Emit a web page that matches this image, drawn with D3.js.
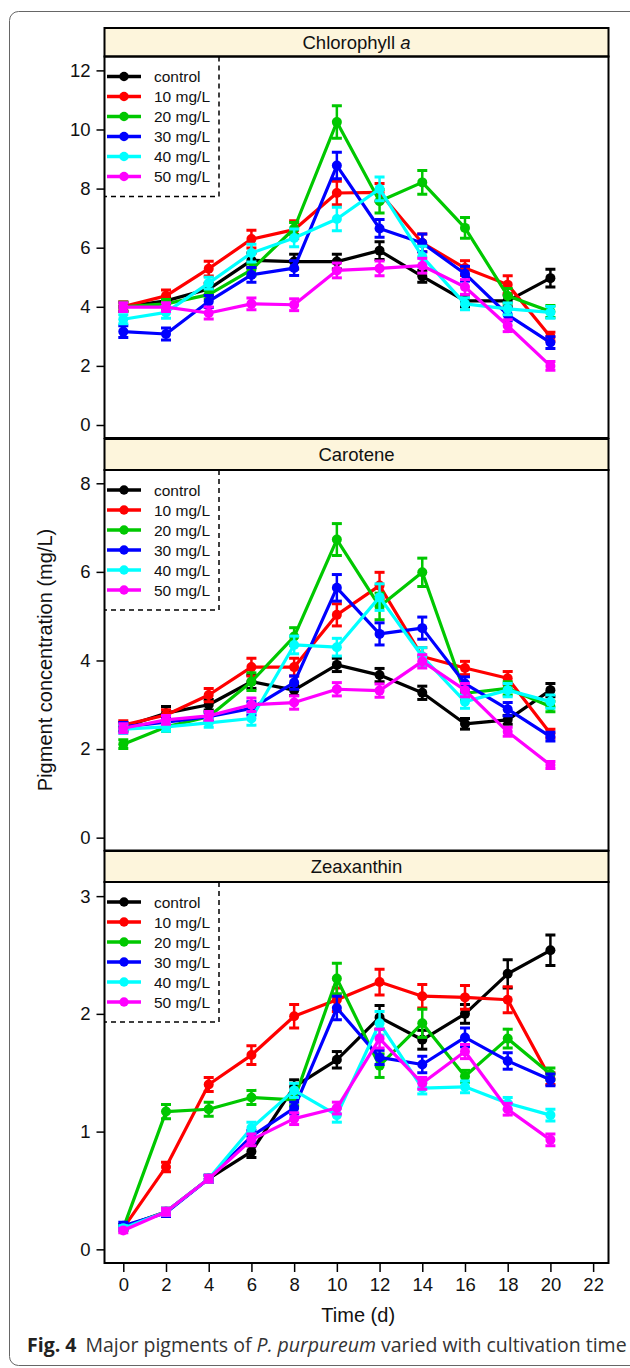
<!DOCTYPE html>
<html>
<head>
<meta charset="utf-8">
<script src="https://cdn.jsdelivr.net/npm/d3@7"></script>
<style>
  body { margin: 0; background: #fff; }
</style>
</head>
<body>
<div id="chart"></div>
<script>
// Time points (days)
const days = [0, 2, 4, 6, 8, 10, 12, 14, 16, 18, 20];
const xTicks = [0, 2, 4, 6, 8, 10, 12, 14, 16, 18, 20, 22];

const seriesNames = ["control", "10 mg/L", "20 mg/L", "30 mg/L", "40 mg/L", "50 mg/L"];
const seriesColors = ["#000000", "#ff0000", "#00c800", "#0000ff", "#00ffff", "#ff00ff"];

// Chlorophyll a
const chlTicks = [0, 2, 4, 6, 8, 10, 12];
const chlMeans = [
  [4.0, 4.2, 4.6, 5.57, 5.53, 5.53, 5.9, 5.03, 4.2, 4.2, 4.97],
  [4.01, 4.37, 5.29, 6.29, 6.61, 7.85, 7.87, 6.16, 5.31, 4.75, 2.99],
  [4.0, 4.1, 4.41, 5.25, 6.65, 10.25, 7.57, 8.21, 6.67, 4.37, 3.84],
  [3.16, 3.08, 4.18, 5.08, 5.31, 8.78, 6.65, 6.16, 5.12, 3.73, 2.79],
  [3.58, 3.81, 4.8, 5.82, 6.33, 6.97, 7.99, 5.7, 4.1, 3.93, 3.81],
  [3.99, 3.99, 3.79, 4.1, 4.07, 5.23, 5.3, 5.39, 4.67, 3.36, 2.0]
];
const chlErrors = [
  [0.15, 0.15, 0.2, 0.25, 0.25, 0.25, 0.3, 0.2, 0.2, 0.2, 0.3],
  [0.15, 0.2, 0.25, 0.3, 0.3, 0.4, 0.3, 0.3, 0.25, 0.3, 0.15],
  [0.15, 0.15, 0.15, 0.2, 0.2, 0.55, 0.4, 0.4, 0.35, 0.25, 0.2],
  [0.2, 0.2, 0.2, 0.25, 0.25, 0.45, 0.3, 0.3, 0.25, 0.2, 0.2],
  [0.15, 0.2, 0.2, 0.3, 0.3, 0.4, 0.4, 0.35, 0.2, 0.2, 0.2],
  [0.15, 0.15, 0.2, 0.2, 0.2, 0.25, 0.25, 0.25, 0.25, 0.2, 0.15]
];

// Carotene
const carTicks = [0, 2, 4, 6, 8];
const carMeans = [
  [2.5, 2.81, 3.0, 3.52, 3.33, 3.9, 3.67, 3.27, 2.57, 2.66, 3.33],
  [2.54, 2.77, 3.22, 3.85, 3.85, 5.03, 5.69, 4.09, 3.83, 3.6, 2.35],
  [2.11, 2.5, 2.73, 3.52, 4.54, 6.73, 5.22, 5.99, 3.26, 3.37, 2.96],
  [2.5, 2.61, 2.73, 2.92, 3.5, 5.64, 4.6, 4.73, 3.48, 2.9, 2.28],
  [2.45, 2.5, 2.59, 2.69, 4.35, 4.3, 5.43, 4.09, 3.07, 3.33, 3.07],
  [2.47, 2.66, 2.75, 3.0, 3.05, 3.35, 3.32, 3.98, 3.33, 2.39, 1.64]
];
const carErrors = [
  [0.1, 0.15, 0.12, 0.15, 0.12, 0.15, 0.15, 0.15, 0.12, 0.1, 0.15],
  [0.1, 0.12, 0.15, 0.2, 0.2, 0.25, 0.3, 0.2, 0.15, 0.15, 0.1],
  [0.1, 0.1, 0.1, 0.2, 0.2, 0.36, 0.3, 0.32, 0.15, 0.15, 0.12],
  [0.1, 0.1, 0.1, 0.15, 0.15, 0.3, 0.25, 0.25, 0.15, 0.15, 0.1],
  [0.1, 0.1, 0.1, 0.15, 0.2, 0.2, 0.3, 0.2, 0.15, 0.15, 0.15],
  [0.1, 0.1, 0.1, 0.15, 0.15, 0.15, 0.15, 0.15, 0.15, 0.1, 0.08]
];

// Zeaxanthin
const zeaTicks = [0, 1, 2, 3];
const zeaMeans = [
  [0.19, 0.32, 0.6, 0.83, 1.38, 1.61, 1.97, 1.78, 2.0, 2.34, 2.54],
  [0.18, 0.7, 1.4, 1.65, 1.98, 2.12, 2.27, 2.15, 2.14, 2.12, 1.45],
  [0.18, 1.17, 1.19, 1.29, 1.27, 2.3, 1.56, 1.92, 1.47, 1.79, 1.49],
  [0.2, 0.31, 0.6, 0.96, 1.2, 2.05, 1.63, 1.57, 1.8, 1.6, 1.44],
  [0.18, 0.32, 0.6, 1.03, 1.35, 1.14, 1.92, 1.37, 1.38, 1.24, 1.14],
  [0.16, 0.32, 0.6, 0.93, 1.11, 1.2, 1.79, 1.41, 1.68, 1.19, 0.93]
];
const zeaErrors = [
  [0.02, 0.03, 0.03, 0.05, 0.06, 0.07, 0.1, 0.08, 0.08, 0.12, 0.13],
  [0.02, 0.04, 0.06, 0.08, 0.1, 0.1, 0.11, 0.1, 0.1, 0.11, 0.05],
  [0.02, 0.06, 0.06, 0.06, 0.05, 0.13, 0.1, 0.12, 0.05, 0.08, 0.05],
  [0.03, 0.03, 0.03, 0.05, 0.05, 0.1, 0.06, 0.07, 0.08, 0.07, 0.05],
  [0.02, 0.03, 0.03, 0.05, 0.06, 0.06, 0.1, 0.05, 0.05, 0.05, 0.05],
  [0.02, 0.03, 0.03, 0.05, 0.05, 0.05, 0.08, 0.05, 0.06, 0.05, 0.05]
];

const width = 630, height = 1368;
const left = 104.5, right = 608.5;
const FONT = "'Liberation Sans', Arial, Helvetica, sans-serif";

const svg = d3.select("#chart").append("svg")
  .attr("width", width)
  .attr("height", height)
  .style("font-family", FONT);

// card outline
svg.append("rect")
  .attr("x", 9.5).attr("y", 11.5)
  .attr("width", 700).attr("height", 1354)
  .attr("rx", 9)
  .attr("fill", "none")
  .attr("stroke", "#666")
  .attr("stroke-width", 1);

const xScale = d3.scaleLinear().domain([-0.88, 22.72]).range([left, right]);

const panels = [
  { title: "Chlorophyll", italic: "a", stripTop: 28, top: 56.5, bottom: 438, domain: [-0.44, 12.47], ticks: chlTicks, means: chlMeans, errors: chlErrors },
  { title: "Carotene", italic: "", stripTop: 439, top: 470, bottom: 850.5, domain: [-0.29, 8.3], ticks: carTicks, means: carMeans, errors: carErrors },
  { title: "Zeaxanthin", italic: "", stripTop: 851, top: 882, bottom: 1263, domain: [-0.116, 3.12], ticks: zeaTicks, means: zeaMeans, errors: zeaErrors }
];

panels.forEach((p, pi) => renderPanel(p, pi === panels.length - 1));

function renderPanel(p, showXAxis) {
  const yScale = d3.scaleLinear().domain(p.domain).range([p.bottom, p.top]);
  const g = svg.append("g");

  // strip header
  g.append("rect")
    .attr("x", left).attr("y", p.stripTop)
    .attr("width", right - left).attr("height", p.top - p.stripTop)
    .attr("fill", "#fdf5dc")
    .attr("stroke", "#000")
    .attr("stroke-width", 2);
  const title = g.append("text")
    .attr("x", (left + right) / 2)
    .attr("y", (p.stripTop + p.top) / 2 + 6.5)
    .attr("text-anchor", "middle")
    .style("font-family", FONT)
    .style("font-size", "18.5px")
    .attr("fill", "#111")
    .text(p.title);
  if (p.italic) {
    title.append("tspan").text(" ");
    title.append("tspan").style("font-style", "italic").text(p.italic);
  }

  // y axis
  const yAxis = d3.axisLeft(yScale).tickValues(p.ticks).tickFormat(d3.format("d")).tickSize(8).tickPadding(6);
  const ya = g.append("g")
    .attr("transform", `translate(${left},0)`)
    .call(yAxis);
  ya.select(".domain").remove();
  ya.selectAll(".tick line").attr("stroke", "#000").attr("stroke-width", 1.5);
  ya.selectAll(".tick text")
    .style("font-family", FONT)
    .style("font-size", "18.5px")
    .attr("fill", "#111");

  // clip for marks
  const clipId = "clip" + p.stripTop;
  g.append("clipPath").attr("id", clipId)
    .append("rect")
    .attr("x", left).attr("y", p.top)
    .attr("width", right - left).attr("height", p.bottom - p.top);

  const marks = g.append("g").attr("clip-path", `url(#${clipId})`);
  const line = d3.line().x((d, i) => xScale(days[i])).y(d => yScale(d));

  p.means.forEach((vals, s) => {
    const color = seriesColors[s];
    const sg = marks.append("g");
    sg.append("path")
      .datum(vals)
      .attr("fill", "none")
      .attr("stroke", color)
      .attr("stroke-width", 3.2)
      .attr("stroke-linejoin", "round")
      .attr("d", line);

    const err = p.errors[s];
    const eb = sg.selectAll(".err")
      .data(vals)
      .enter().append("g");
    eb.append("line")
      .attr("x1", (d, i) => xScale(days[i]))
      .attr("x2", (d, i) => xScale(days[i]))
      .attr("y1", (d, i) => yScale(d - err[i]))
      .attr("y2", (d, i) => yScale(d + err[i]))
      .attr("stroke", color).attr("stroke-width", 2.5);
    [-1, 1].forEach(sign => {
      eb.append("line")
        .attr("x1", (d, i) => xScale(days[i]) - 5)
        .attr("x2", (d, i) => xScale(days[i]) + 5)
        .attr("y1", (d, i) => yScale(d + sign * err[i]))
        .attr("y2", (d, i) => yScale(d + sign * err[i]))
        .attr("stroke", color).attr("stroke-width", 3);
    });

    sg.selectAll(".dot")
      .data(vals)
      .enter().append("circle")
      .attr("cx", (d, i) => xScale(days[i]))
      .attr("cy", d => yScale(d))
      .attr("r", 5)
      .attr("fill", color);
  });

  // legend
  const legBottom = p.top + 140;
  const legRight = 219;
  const legend = g.append("g");
  seriesNames.forEach((name, s) => {
    const ly = p.top + 20 * (s + 1);
    legend.append("line")
      .attr("x1", 107).attr("x2", 141)
      .attr("y1", ly).attr("y2", ly)
      .attr("stroke", seriesColors[s]).attr("stroke-width", 3.5);
    legend.append("circle")
      .attr("cx", 124).attr("cy", ly).attr("r", 4.7)
      .attr("fill", seriesColors[s]);
    legend.append("text")
      .attr("x", 154).attr("y", ly + 5.5)
      .style("font-family", FONT)
      .style("font-size", "15.5px")
      .attr("fill", "#111")
      .text(name);
  });
  legend.append("path")
    .attr("d", `M${legRight},${p.top}V${legBottom}H${left}`)
    .attr("fill", "none")
    .attr("stroke", "#000")
    .attr("stroke-width", 1.5)
    .attr("stroke-dasharray", "5,4");

  // panel frame
  g.append("rect")
    .attr("x", left).attr("y", p.top)
    .attr("width", right - left).attr("height", p.bottom - p.top)
    .attr("fill", "none")
    .attr("stroke", "#000")
    .attr("stroke-width", 2);

  if (showXAxis) {
    const xAxis = d3.axisBottom(xScale).tickValues(xTicks).tickSize(9).tickPadding(6);
    const xa = g.append("g")
      .attr("transform", `translate(0,${p.bottom})`)
      .call(xAxis);
    xa.select(".domain").remove();
    xa.selectAll(".tick line").attr("stroke", "#000").attr("stroke-width", 1.5);
    xa.selectAll(".tick text")
      .style("font-family", FONT)
      .style("font-size", "18.5px")
      .attr("fill", "#111");

    g.append("text")
      .attr("x", xScale(11))
      .attr("y", p.bottom + 59)
      .attr("text-anchor", "middle")
      .style("font-family", FONT)
      .style("font-size", "20px")
      .attr("fill", "#111")
      .text("Time (d)");
  }
}

// y axis title
svg.append("text")
  .attr("transform", `translate(52,${(57 + 1263) / 2}) rotate(-90)`)
  .attr("text-anchor", "middle")
  .style("font-family", FONT)
  .style("font-size", "20px")
  .attr("fill", "#111")
  .text("Pigment concentration (mg/L)");

// caption
const cap = svg.append("text")
  .attr("x", 27).attr("y", 1352)
  .style("font-family", "'Open Sans', 'Noto Sans', sans-serif")
  .style("font-size", "19.5px")
  .attr("fill", "#333");
cap.append("tspan").style("font-weight", "bold").attr("fill", "#222").text("Fig. 4");
cap.append("tspan").attr("dx", 9).text("Major pigments of ");
cap.append("tspan").style("font-style", "italic").text("P. purpureum");
cap.append("tspan").text(" varied with cultivation time");
</script>
</body>
</html>
